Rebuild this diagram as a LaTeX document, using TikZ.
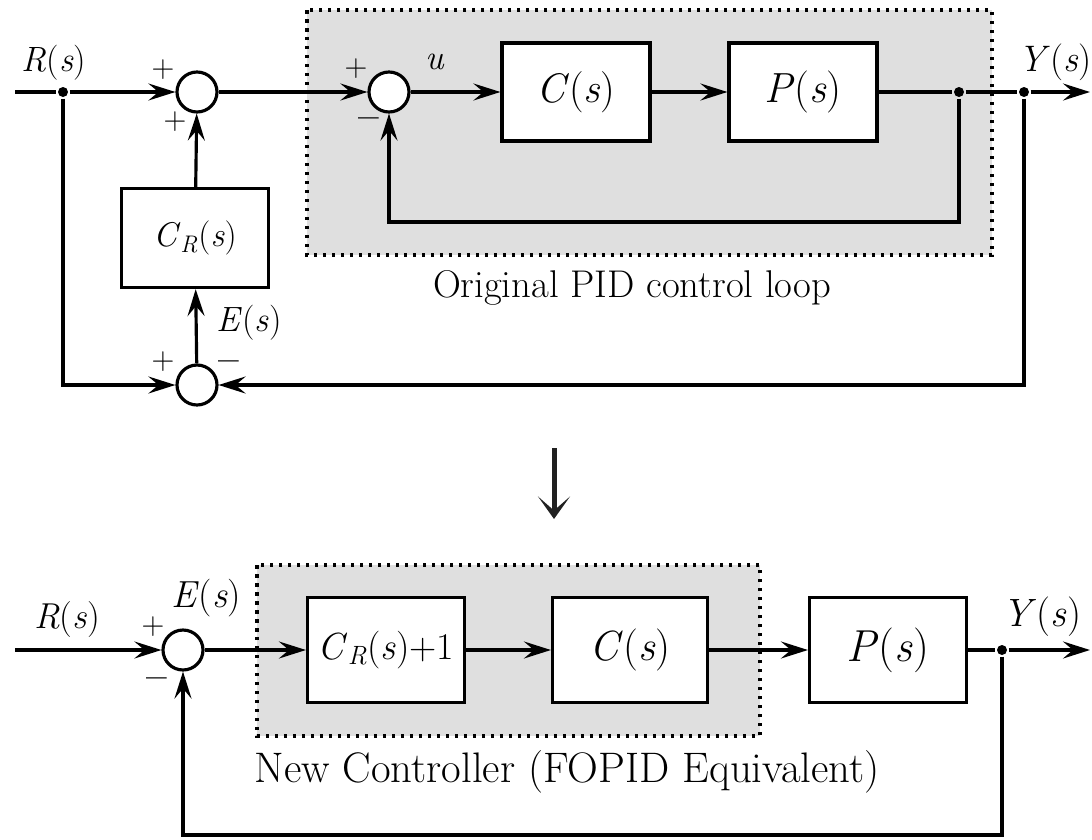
\documentclass[tikz,border=0pt]{standalone}
\usepackage{fontspec}
\usetikzlibrary{arrows.meta}

\newcommand{\fsig}[1]{\textit{#1}(\textit{s})}
\newcommand{\fsz}[1]{\fontsize{#1}{#1}\selectfont}

\begin{document}
\begin{tikzpicture}[x=0.02cm, y=-0.02cm, line width=1.8pt,
  block/.style={draw, fill=white, minimum width=2.96cm, minimum height=1.96cm, inner sep=0pt},
  sumnode/.style={draw, circle, fill=white, minimum size=0.8cm, inner sep=0pt},
  dot/.style={circle, fill, inner sep=0pt, minimum size=0.2cm},
  arr/.style={-{Stealth[length=5.4mm, width=3.4mm, inset=2mm]}},
  lbl/.style={inner sep=1pt},
  pm/.style={font=\fsz{18}, inner sep=0pt, text height=0.5em, text depth=0pt},
  mn/.style={font=\fsz{21}\bfseries, inner sep=0pt, text height=0.5em, text depth=0pt},
  loopbox/.style={fill=gray!25, line width=2pt, dash pattern=on 0.07cm off 0.11cm}]

\useasboundingbox (0,0) rectangle (1092,839);

\draw [loopbox] (307,10) rectangle (992,255);
\draw [loopbox] (257,565) rectangle (760,736);

\coordinate (inR) at (15,92);
\node [dot] (spR) at (63,92) {};
\node [sumnode] (s1) at (197,92) {};
\node [sumnode] (s2) at (389,92) {};
\node [block, font=\fsz{23.5}] (C) at (576,92) {\fsig{C}};
\node [block, font=\fsz{24}] (P) at (803,92) {\fsig{P}};
\node [dot] (spP) at (959,92) {};
\node [dot] (spY) at (1024,92) {};
\coordinate (outY) at (1090,92);
\coordinate (fb1) at (959,222);
\node [block, minimum width=2.94cm, minimum height=1.98cm, font=\fsz{19.5}] (CR) at (195,238) {\textit{C}\textsubscript{\textit{R}}(\textit{s})};
\node [sumnode] (s3) at (197,385) {};

\node [lbl, font=\fsz{20}] (lR) at (54,63) {\fsig{R}};
\node [lbl, font=\fsz{21}] (lY) at (1055,62) {\fsig{Y}};
\node [lbl, font=\fsz{20}] (lu) at (435,62) {\textit{u}};
\node [lbl, font=\fsz{20}] (lE) at (249,323) {\fsig{E}};
\node [pm] (p1a) at (163,73) {+};
\node [pm] (p1b) at (175,125) {+};
\node [pm] (p2a) at (356,72) {+};
\node [mn] (m2b) at (369,124) {--};
\node [pm] (p3a) at (163,365) {+};
\node [mn] (m3b) at (229,367) {--};
\node [lbl, font=\fsz{22}] (lorig) at (632,288) {Original PID control loop};

\draw (inR) -- (spR);
\draw [arr] (spR) -- (s1);
\draw [arr] (s1) -- (s2);
\draw [arr] (s2) -- (C);
\draw [arr] (C) -- (P);
\draw (P) -- (spP) -- (spY);
\draw [arr] (spY) -- (outY);
\draw [arr] (spP) -- (fb1) -| (s2);
\draw [arr] (spY) |- (s3);
\draw [arr] (spR) |- (s3);
\draw [arr] (s3) -- (CR);
\draw [arr] (CR) -- (s1);

\coordinate (mtop) at (554,448);
\coordinate (mbot) at (554,519);
\draw [line width=0.1cm, draw=black!87, -{Stealth[length=4.5mm, width=6.4mm, inset=2.8mm]}] (mtop) -- (mbot);

\coordinate (inR2) at (15,650);
\node [sumnode] (s4) at (183,650) {};
\node [block, minimum width=3.14cm, minimum height=2.1cm, font=\fsz{21.5}] (CR1) at (386,650) {\textit{C}\textsubscript{\textit{R}}(\textit{s})+1};
\node [block, minimum width=3.1cm, minimum height=2.1cm, font=\fsz{24}] (C2) at (630,650) {\fsig{C}};
\node [block, minimum width=3.14cm, minimum height=2.1cm, font=\fsz{25.5}] (P2) at (888,650) {\fsig{P}};
\node [dot] (spY2) at (1002,650) {};
\coordinate (outY2) at (1090,650);
\coordinate (fb2) at (1002,835);

\node [lbl, font=\fsz{20.5}] (lR2) at (67,620) {\fsig{R}};
\node [lbl, font=\fsz{21.5}] (lE2) at (206,598) {\fsig{E}};
\node [lbl, font=\fsz{22.5}] (lY2) at (1042,617) {\fsig{Y}};
\node [pm] (p4a) at (153,630) {+};
\node [mn] (m4b) at (157,684) {--};
\node [lbl, font=\fsz{24.3}] (lnew) at (567,772) {New Controller (FOPID Equivalent)};

\draw [arr] (inR2) -- (s4);
\draw [arr] (s4) -- (CR1);
\draw [arr] (CR1) -- (C2);
\draw [arr] (C2) -- (P2);
\draw (P2) -- (spY2);
\draw [arr] (spY2) -- (outY2);
\draw [arr] (spY2) -- (fb2) -| (s4);

\end{tikzpicture}
\end{document}
